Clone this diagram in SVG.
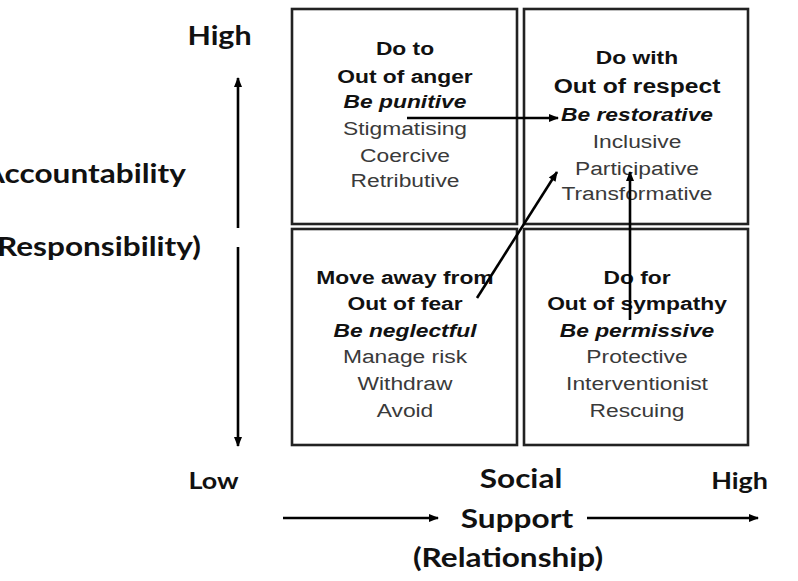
<svg xmlns="http://www.w3.org/2000/svg" width="798" height="581" viewBox="0 0 798 581">
<defs>
<marker id="ah" viewBox="0 0 10 10" refX="9" refY="5" markerWidth="11" markerHeight="10" orient="auto" markerUnits="userSpaceOnUse">
<path d="M0,1 L10,5 L0,9 z" fill="#000"/>
</marker>
</defs>
<style>
.box{fill:#fff;stroke:#222;stroke-width:2.6}
.t{font-family:"Liberation Sans",Arial,sans-serif;font-size:19px;text-anchor:middle;fill:#3a3a3a}
.b{font-weight:bold;fill:#111}
.i{font-weight:bold;font-style:italic;fill:#111}
.ax{font-family:Lato,"Open Sans",sans-serif;font-weight:bold;font-size:27px;fill:#111}
.line{stroke:#000;stroke-width:2.6;fill:none}
</style>
<rect width="798" height="581" fill="#fff"/>
<g id="q-do-to">
<rect class="box" x="292" y="9" width="225" height="215"/>
<g transform="translate(405,0) scale(1.2,1)">
<text class="t b" x="0" y="55">Do to</text>
<text class="t b" x="0" y="83">Out of anger</text>
<text class="t i" x="0" y="108">Be punitive</text>
<text class="t" x="0" y="135">Stigmatising</text>
<text class="t" x="0" y="162">Coercive</text>
<text class="t" x="0" y="187">Retributive</text>
</g>
</g>
<g id="q-do-with">
<rect class="box" x="524" y="9" width="224" height="215"/>
<g transform="translate(637,0) scale(1.2,1)">
<text class="t b" x="0" y="64">Do with</text>
<text class="t b" x="0" y="93" style="font-size:20.5px">Out of respect</text>
<text class="t i" x="0" y="121">Be restorative</text>
<text class="t" x="0" y="148">Inclusive</text>
<text class="t" x="0" y="175">Participative</text>
<text class="t" x="0" y="200">Transformative</text>
</g>
</g>
<g id="q-move-away">
<rect class="box" x="292" y="229" width="225" height="216"/>
<g transform="translate(405,0) scale(1.2,1)">
<text class="t b" x="0" y="284">Move away from</text>
<text class="t b" x="0" y="310">Out of fear</text>
<text class="t i" x="0" y="337">Be neglectful</text>
<text class="t" x="0" y="363">Manage risk</text>
<text class="t" x="0" y="390">Withdraw</text>
<text class="t" x="0" y="417">Avoid</text>
</g>
</g>
<g id="q-do-for">
<rect class="box" x="524" y="229" width="224" height="216"/>
<g transform="translate(637,0) scale(1.2,1)">
<text class="t b" x="0" y="284">Do for</text>
<text class="t b" x="0" y="310">Out of sympathy</text>
<text class="t i" x="0" y="337">Be permissive</text>
<text class="t" x="0" y="363">Protective</text>
<text class="t" x="0" y="390">Interventionist</text>
<text class="t" x="0" y="417">Rescuing</text>
</g>
</g>
<g id="connectors">
<line class="line" x1="407" y1="118" x2="558" y2="118" marker-end="url(#ah)"/>
<line class="line" x1="477" y1="298" x2="557" y2="172" marker-end="url(#ah)"/>
<line class="line" x1="630" y1="320" x2="630" y2="172" marker-end="url(#ah)"/>
</g>
<g id="axes">
<line class="line" x1="238" y1="228" x2="238" y2="78" marker-end="url(#ah)"/>
<line class="line" x1="238" y1="247" x2="238" y2="446" marker-end="url(#ah)"/>
<line class="line" x1="283" y1="518" x2="438" y2="518" marker-end="url(#ah)"/>
<line class="line" x1="587" y1="518" x2="758" y2="518" marker-end="url(#ah)"/>
<text class="ax" transform="translate(219.5,45) scale(1.17,1)" text-anchor="middle" style="font-size:26px">High</text>
<text class="ax" transform="translate(186,183) scale(1.17,1)" text-anchor="end">Accountability</text>
<text class="ax" transform="translate(201,256) scale(1.17,1)" text-anchor="end">(Responsibility)</text>
<text class="ax" transform="translate(213.5,489) scale(1.17,1)" text-anchor="middle" style="font-size:23px">Low</text>
<text class="ax" transform="translate(739.5,489) scale(1.17,1)" text-anchor="middle" style="font-size:23px">High</text>
<text class="ax" transform="translate(521,488) scale(1.17,1)" text-anchor="middle">Social</text>
<text class="ax" transform="translate(517,528) scale(1.17,1)" text-anchor="middle">Support</text>
<text class="ax" transform="translate(508,567) scale(1.17,1)" text-anchor="middle">(Relationship)</text>
</g>
</svg>
